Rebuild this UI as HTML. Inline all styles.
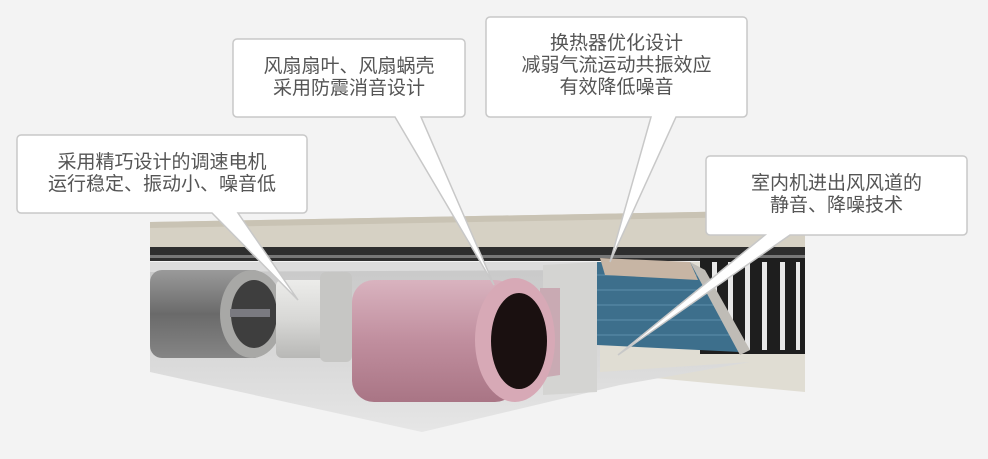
<!DOCTYPE html>
<html><head><meta charset="utf-8"><style>
html,body{margin:0;padding:0;}
body{width:988px;height:459px;background:#f3f3f3;position:relative;overflow:hidden;font-family:"Liberation Sans","Noto Sans CJK SC",sans-serif;}
svg{position:absolute;left:0;top:0;}
.t{position:absolute;color:#555;font-size:19px;line-height:22px;text-align:center;}
</style></head><body>
<svg width="988" height="459" viewBox="0 0 988 459">
<defs>
<linearGradient id="gc" x1="0" y1="0" x2="0" y2="1"><stop offset="0" stop-color="#9a9a9a"/><stop offset="0.5" stop-color="#6a6a6a"/><stop offset="1" stop-color="#858585"/></linearGradient>
<linearGradient id="pk" x1="0" y1="0" x2="0" y2="1"><stop offset="0" stop-color="#d9b3bf"/><stop offset="0.5" stop-color="#c08e9e"/><stop offset="1" stop-color="#a97585"/></linearGradient>
<linearGradient id="wm" x1="0" y1="0" x2="0" y2="1"><stop offset="0" stop-color="#ececea"/><stop offset="0.5" stop-color="#d8d8d6"/><stop offset="1" stop-color="#b8b8b6"/></linearGradient>
<linearGradient id="fl" x1="0" y1="0" x2="0" y2="1"><stop offset="0" stop-color="#c8c8c8"/><stop offset="1" stop-color="#e6e6e6"/></linearGradient>
</defs>
<polygon points="150,222 805,210 805,250 150,252" fill="#d6d1c4"/>
<polygon points="150,222 805,210 805,216 150,228" fill="#c9c3b4"/>
<rect x="150" y="247" width="655" height="14" fill="#2e2e2e"/>
<rect x="150" y="255" width="655" height="3" fill="#777"/>
<polygon points="590,262 805,262 805,392 590,372" fill="#e0ddd3"/>
<polygon points="150,262 600,262 600,372 750,362 620,385 422,432 150,372" fill="url(#fl)"/>
<polygon points="150,262 600,262 600,270 150,272" fill="#dcdcdc"/>
<rect x="700" y="258" width="105" height="96" fill="#1e1e1e"/>
<g fill="#e8e8e8"><rect x="712" y="262" width="5" height="88"/><rect x="728" y="262" width="5" height="88"/><rect x="745" y="262" width="5" height="88"/><rect x="762" y="262" width="5" height="88"/><rect x="780" y="262" width="5" height="88"/><rect x="796" y="262" width="4" height="88"/></g>
<polygon points="597,262 690,262 740,335 740,352 597,345" fill="#3d6f8c"/>
<g stroke="#5d8fab" stroke-width="1"><line x1="597" y1="275" x2="700" y2="275"/><line x1="597" y1="290" x2="710" y2="290"/><line x1="597" y1="305" x2="720" y2="305"/><line x1="597" y1="320" x2="730" y2="320"/><line x1="597" y1="335" x2="738" y2="335"/></g>
<polygon points="600,258 690,262 698,280 605,275" fill="#c7b5a4"/>
<polygon points="690,262 705,270 750,350 740,355" fill="#bfbcb6"/>
<polygon points="543,265 597,262 597,392 543,395" fill="#d4d4d2"/>
<polygon points="540,288 560,288 560,375 540,378" fill="#c9aab3"/>
<rect x="150" y="270" width="115" height="88" rx="12" fill="url(#gc)"/>
<ellipse cx="252" cy="314" rx="32" ry="44" fill="#a8a8a6"/>
<ellipse cx="254" cy="314" rx="23" ry="34" fill="#3e3e3e"/>
<rect x="230" y="309" width="40" height="8" fill="#7a7a80"/>
<rect x="276" y="280" width="72" height="78" rx="6" fill="url(#wm)"/>
<rect x="320" y="272" width="32" height="90" rx="6" fill="#c6c6c4"/>
<rect x="352" y="280" width="165" height="122" rx="22" fill="url(#pk)"/>
<ellipse cx="515" cy="340" rx="40" ry="62" fill="#d7a9b6"/>
<ellipse cx="519" cy="341" rx="28" ry="48" fill="#1a1010"/>
</svg>
<svg width="988" height="459" viewBox="0 0 988 459">
<g fill="#fff" stroke="#c8c8c8" stroke-width="1.5">
<path d="M21,135 H303 a4,4 0 0 1 4,4 V209 a4,4 0 0 1 -4,4 H238 L298,300 L212,213 H21 a4,4 0 0 1 -4,-4 V139 a4,4 0 0 1 4,-4 Z"/>
<path d="M237,39 H461 a4,4 0 0 1 4,4 V113 a4,4 0 0 1 -4,4 H421 L494,285 L395,117 H237 a4,4 0 0 1 -4,-4 V43 a4,4 0 0 1 4,-4 Z"/>
<path d="M490,17 H743 a4,4 0 0 1 4,4 V113 a4,4 0 0 1 -4,4 H676 L610,262 L651,117 H490 a4,4 0 0 1 -4,-4 V21 a4,4 0 0 1 4,-4 Z"/>
<path d="M710,156 H963 a4,4 0 0 1 4,4 V231 a4,4 0 0 1 -4,4 H790 L618,355 L765,235 H710 a4,4 0 0 1 -4,-4 V160 a4,4 0 0 1 4,-4 Z"/>
</g>
</svg>
<div class="t" style="left:17px;top:152px;width:290px;">采用精巧设计的调速电机<br>运行稳定、振动小、噪音低</div>
<div class="t" style="left:233px;top:56px;width:232px;">风扇扇叶、风扇蜗壳<br>采用防震消音设计</div>
<div class="t" style="left:486px;top:33px;width:261px;">换热器优化设计<br>减弱气流运动共振效应<br>有效降低噪音</div>
<div class="t" style="left:706px;top:173px;width:261px;">室内机进出风风道的<br>静音、降噪技术</div>
</body></html>
